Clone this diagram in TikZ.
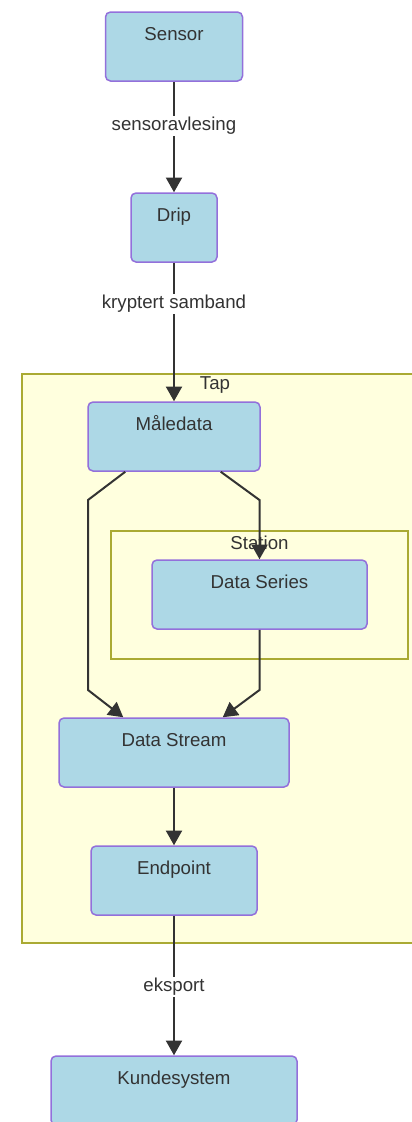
\documentclass[tikz,border=0pt]{standalone}
\usepackage{fontspec}
\setmainfont{Liberation Sans}
\usetikzlibrary{arrows.meta,positioning,calc}
\newlength{\px}
\setlength{\px}{0.75pt}
\definecolor{boxfill}{HTML}{ADD8E6}
\definecolor{boxline}{HTML}{9370DB}
\definecolor{tapfill}{HTML}{FFFFDE}
\definecolor{tapline}{HTML}{AAAA33}
\definecolor{ink}{HTML}{333333}

\begin{document}
\begin{tikzpicture}[
  x=0.75pt, y=-0.75pt,
  box/.style={draw=boxline, fill=boxfill, line width=1.5\px, rounded corners=5\px,
    inner sep=0pt, text height=28\px, text depth=41\px, text=ink,
    font=\fontsize{14}{16}\selectfont},
  arrow/.style={-{Triangle[length=11pt, width=12pt]}, draw=ink, line width=2\px},
  elabel/.style={fill=white, inner sep=1pt, text=ink, font=\fontsize{14}{16}\selectfont},
  cluster/.style={draw=tapline, fill=tapfill, line width=1.5\px},
  clabel/.style={text=ink, inner sep=0pt, font=\fontsize{14}{16}\selectfont},
]
\useasboundingbox (0,0) rectangle (411,1122);

% Clusters
\draw[cluster] (22,374) rectangle (413,943);
\node[clabel] (taplbl) at (215,385) {Tap};
\draw[cluster] (111,531) rectangle (408,659);
\node[clabel] (stationlbl) at (259.5,543) {Station};

% Nodes
\node[box, minimum width=137\px] (sensor) at (174,46.5) {Sensor};
\node[box, minimum width=86\px] (drip) at (174,227.5) {Drip};
\node[box, minimum width=172\px] (male) at (174,436.5) {Måledata};
\node[box, minimum width=215\px] (series) at (259.5,594.5) {Data Series};
\node[box, minimum width=230\px] (stream) at (174,752.5) {Data Stream};
\node[box, minimum width=166\px] (endpoint) at (174,880.5) {Endpoint};
\node[box, minimum width=246\px] (kunde) at (174,1090.5) {Kundesystem};

% Bends
\coordinate (mL) at (88,500);
\coordinate (sL) at (88,690);
\coordinate (mR) at (259.5,500);
\coordinate (sR) at (259.5,690);

% Arrows
\draw[arrow] (sensor) -- (drip) node[elabel, pos=0.4] {sensoravlesing};
\draw[arrow] (drip) -- (male) node[elabel, pos=0.295] {kryptert samband};
\draw[arrow] ($(male.south west)+(38,0)$) -- (mL) -- (sL) -- ($(stream.north west)+(65,0)$);
\draw[arrow] ($(male.south east)+(-40,0)$) -- (mR) -- (series.north);
\draw[arrow] (series.south) -- (sR) -- ($(stream.north east)+(-67,0)$);
\draw[arrow] (stream) -- (endpoint);
\draw[arrow] (endpoint) -- (kunde) node[elabel, pos=0.51] {eksport};

\end{tikzpicture}
\end{document}
